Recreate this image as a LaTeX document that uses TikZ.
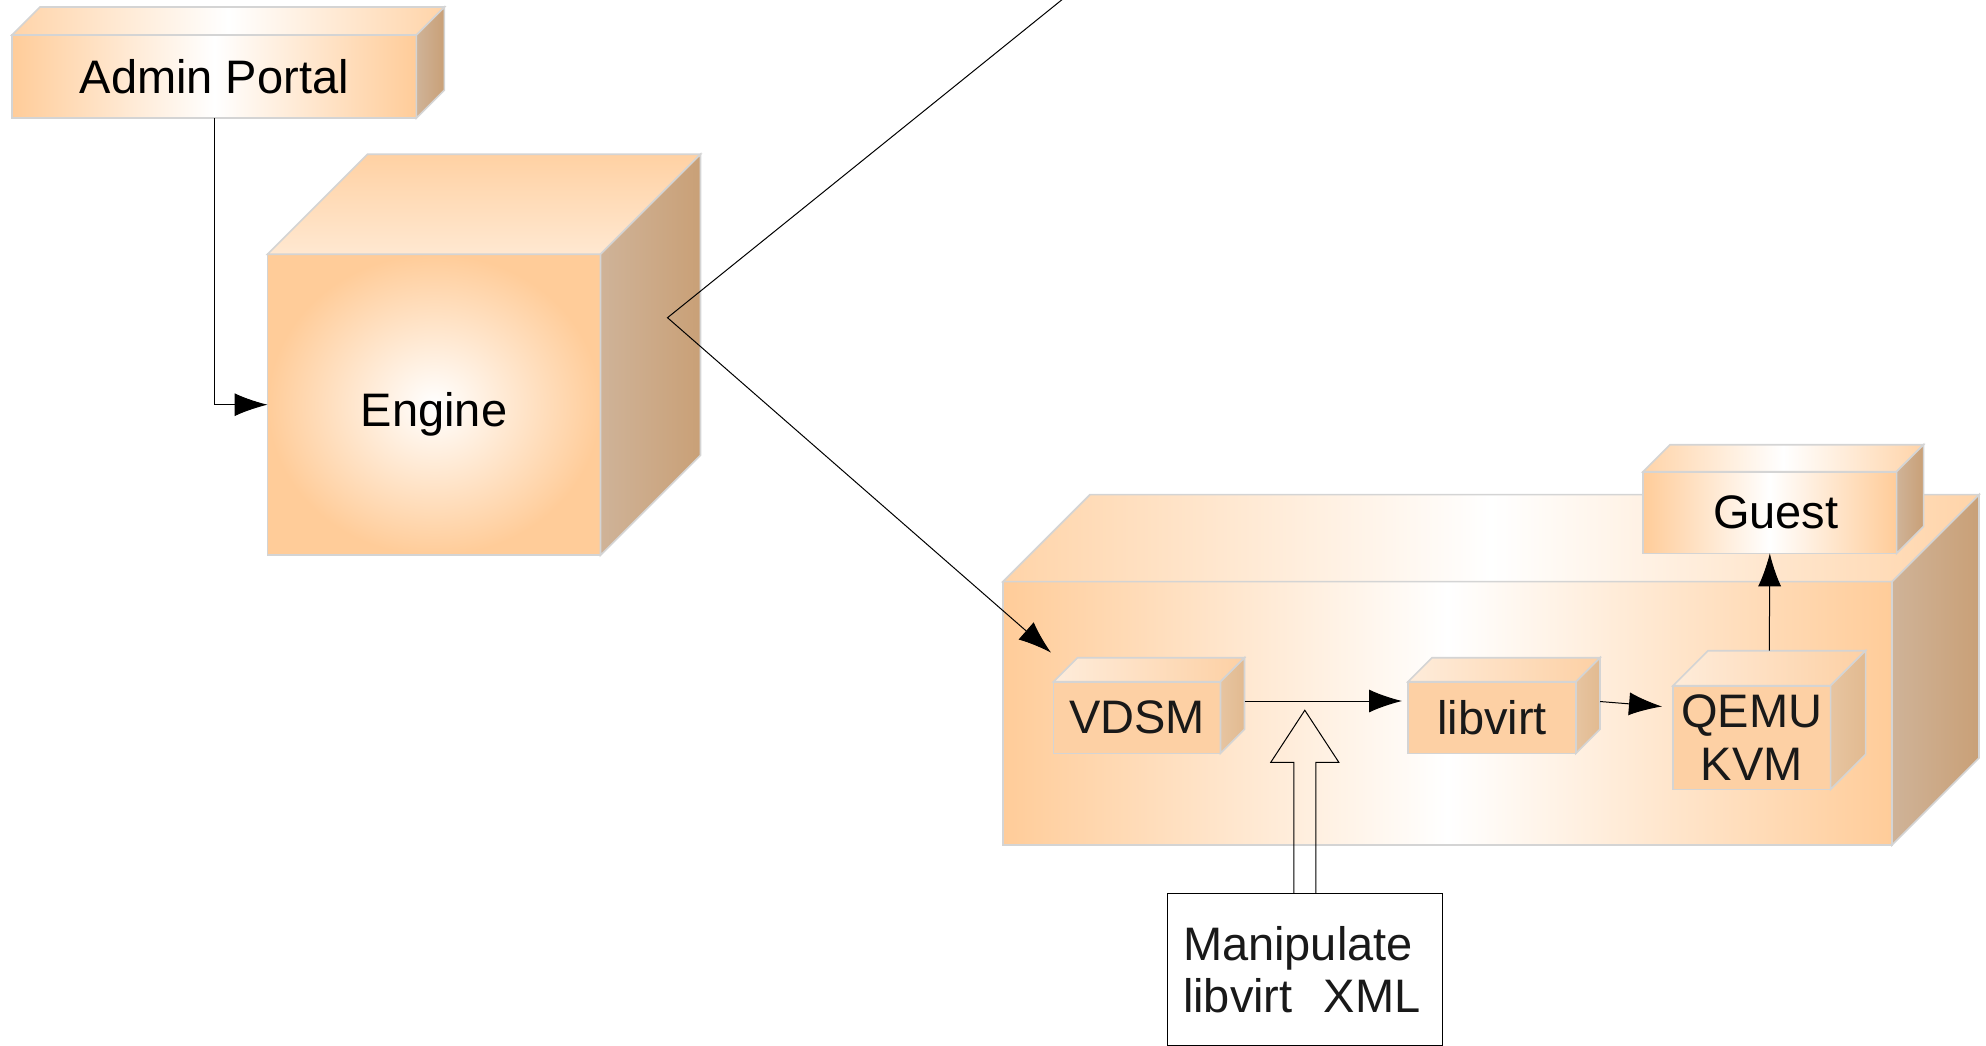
\documentclass[tikz,border=0pt]{standalone}
\usepackage{fontspec}
\setmainfont{Liberation Sans}
\usepackage{tikz}
\usetikzlibrary{arrows.meta, calc, positioning}

\definecolor{boxorange}{HTML}{FFCC99}
\definecolor{boxedge}{HTML}{D4D4D4}
\definecolor{sidelight}{HTML}{CFB398}
\definecolor{sidedark}{HTML}{C9A077}
\definecolor{innerorange}{HTML}{FDD0A4}
\definecolor{innerside}{HTML}{E2BA90}

\begin{document}
\begin{tikzpicture}[x=0.5pt, y=-0.5pt,
        front/.style={rectangle, draw=boxedge, line width=0.8pt, outer sep=0pt, inner sep=0pt,
            align=center, font=\fontsize{23.5}{26.5}\selectfont},
        outerfront/.style={front, left color=boxorange, right color=boxorange, middle color=white},
        enginefront/.style={front, shading=radial, inner color=white, outer color=boxorange},
        innerfront/.style={front, fill=innerorange, text=black!90},
        topface/.style={draw=boxedge, line width=0.8pt, left color=boxorange!85, right color=boxorange!85, middle color=white},
        enginetop/.style={draw=boxedge, line width=0.8pt, top color=boxorange!90, bottom color=boxorange!45},
        sideface/.style={draw=boxedge, line width=0.8pt, left color=sidelight, right color=sidedark},
        innertop/.style={draw=boxedge, line width=0.8pt, left color=innerorange!40, right color=innerorange},
        innersideface/.style={draw=boxedge, line width=0.8pt, left color=innerside!85!white, right color=innerside},
        note/.style={rectangle, draw=black, line width=0.5pt, outer sep=0pt, inner xsep=8pt,
            align=left, font=\fontsize{23.5}{26.2}\selectfont, text=black!90},
        line/.style={draw, line width=0.5pt, -{Latex[length=16.5pt, width=11.5pt]}}]

        \useasboundingbox (0,0) rectangle (1986,1045);

        % Outer nodes
        \node [outerfront, minimum width=202.2pt, minimum height=41.5pt] (admin) at (214.2,76.5) {Admin Portal};
        \node [enginefront, minimum width=166.5pt, minimum height=150.5pt, text height=26.8pt, text depth=4.9pt]
            (engine) at (434,404.7) {Engine};
        \node [outerfront, minimum width=444.5pt, minimum height=131.7pt] (host) at (1447.5,713.3) {};

        \foreach \n/\d/\t in {admin/28/topface, engine/100/enginetop, host/87/topface} {
            \shade [\t] (\n.north west) -- ++(\d,-\d) -- ($(\n.north east)+(\d,-\d)$) -- (\n.north east) -- cycle;
            \shade [sideface] (\n.north east) -- ++(\d,-\d) -- ($(\n.south east)+(\d,-\d)$) -- (\n.south east) -- cycle;
        }

        % Inner nodes
        \node [outerfront, minimum width=126.8pt, minimum height=40.8pt] (guest) at (1769.8,512.5) {\hspace{6pt}Guest};
        \node [innerfront, minimum width=83.5pt, minimum height=35.8pt] (vdsm) at (1137,717.5) {VDSM};
        \node [innerfront, minimum width=84pt, minimum height=35.8pt] (libvirt) at (1492,717.5) {libvirt};
        \node [innerfront, minimum width=78.8pt, minimum height=51.8pt] (qemu) at (1751.8,737.5) {QEMU\\KVM};

        \foreach \n/\d/\t/\s in {guest/27/topface/sideface, vdsm/24/innertop/innersideface,
                libvirt/24/innertop/innersideface, qemu/35/innertop/innersideface} {
            \shade [\t] (\n.north west) -- ++(\d,-\d) -- ($(\n.north east)+(\d,-\d)$) -- (\n.north east) -- cycle;
            \shade [\s] (\n.north east) -- ++(\d,-\d) -- ($(\n.south east)+(\d,-\d)$) -- (\n.south east) -- cycle;
        }

        % Note
        \node [note, minimum width=137.8pt, minimum height=76.25pt, text width=121.8pt] (manip) at (1304.8,969.5)
            {Manipulate\\libvirt\ \ XML};

        % Connections
        \coordinate (uplink) at (1074,-10);
        \path [line] (admin.south) |- (engine.west);
        \path [line] (uplink) -- ($(engine.east)+(67,-87)$) -- ($(host.north west)+(48,71)$);
        \path [line] ($(vdsm.east)+(24,-16.5)$) -- ($(libvirt.west)+(-6,-16.5)$);
        \path [line] ($(libvirt.east)+(24,-16)$) -- ($(qemu.west)+(-11,-31)$);
        \path [line] ($(qemu.north)+(17.5,-35)$) -- (guest.south);
        \draw [line width=0.5pt] ($(manip.north)+(-11,0)$) -- ++(0,-131) -- ++(-23,0)
            -- ($(manip.north)+(0,-183)$) -- ($(manip.north)+(34,-131)$) -- ++(-23,0) -- ($(manip.north)+(11,0)$);

    \end{tikzpicture}
\end{document}
